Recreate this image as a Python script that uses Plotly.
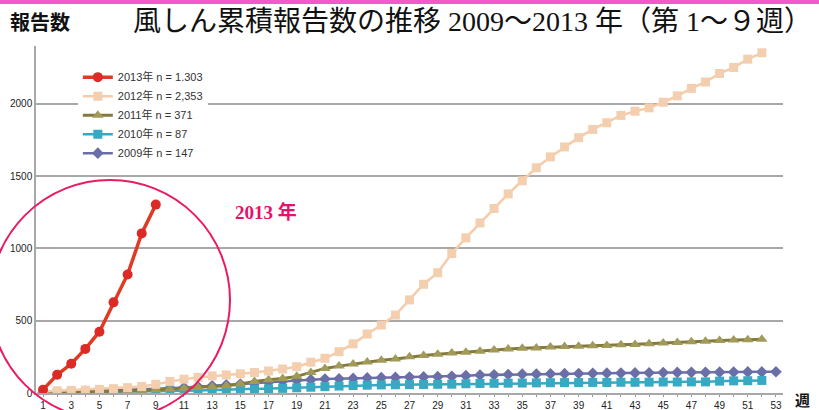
import plotly.graph_objects as go

weeks_2013 = list(range(1, 10))
cases_2013 = [23, 126, 202, 305, 424, 627, 820, 1104, 1303]

weeks_2012 = list(range(1, 53))
cases_2012 = [10, 15, 18, 20, 25, 30, 37, 45, 60, 80, 96, 108, 118, 125, 133, 142, 152, 166, 182, 213,
              240, 286, 340, 408, 470, 539, 644, 752, 832, 965, 1073, 1176, 1276, 1377, 1468, 1558,
              1633, 1702, 1766, 1823, 1869, 1920, 1949, 1972, 2011, 2055, 2107, 2151, 2210, 2251, 2309, 2353]

weeks_2011 = list(range(1, 53))
cases_2011 = [2, 4, 5, 6, 8, 10, 14, 18, 22, 28, 33, 38, 44, 50, 62, 80, 92, 100, 115, 142,
              170, 186, 200, 214, 226, 235, 250, 260, 268, 276, 282, 289, 298, 304, 309, 312,
              318, 322, 324, 326, 328, 333, 336, 340, 345, 350, 354, 358, 363, 366, 369, 371]

weeks_2010 = list(range(1, 53))
cases_2010 = [1, 2, 3, 4, 5, 6, 8, 10, 12, 14, 16, 18, 20, 22, 24, 26, 28, 32, 36, 40,
              44, 48, 52, 54, 56, 57, 58, 59, 60, 61, 64, 66, 67, 68, 69, 70,
              71, 72, 72, 73, 73, 74, 74, 75, 76, 76, 77, 77, 82, 84, 85, 87]

weeks_2009 = list(range(1, 54))
cases_2009 = [2, 5, 8, 11, 14, 17, 20, 24, 28, 33, 38, 43, 50, 56, 62, 68, 75, 82, 88, 92,
              96, 98, 101, 104, 106, 108, 110, 111, 113, 115, 120, 124, 126, 128, 130, 131,
              133, 134, 135, 136, 137, 138, 139, 140, 141, 142, 143, 143, 144, 145, 146, 146, 147]

series_names = ["2013年 n = 1.303", "2012年 n = 2,353", "2011年 n = 371", "2010年 n = 87", "2009年 n = 147"]
x_ticks = list(range(1, 54, 2))
y_ticks = [0, 500, 1000, 1500, 2000]

fig = go.Figure()
fig.add_trace(go.Scatter(x=weeks_2009, y=cases_2009, name=series_names[4], mode="lines+markers",
                         line=dict(color="#6a6fa8", width=2.5),
                         marker=dict(symbol="diamond", size=9, color="#6a6fa8")))
fig.add_trace(go.Scatter(x=weeks_2010, y=cases_2010, name=series_names[3], mode="lines+markers",
                         line=dict(color="#38a9c2", width=2.5),
                         marker=dict(symbol="square", size=9, color="#38a9c2")))
fig.add_trace(go.Scatter(x=weeks_2011, y=cases_2011, name=series_names[2], mode="lines+markers",
                         line=dict(color="#857a3e", width=3),
                         marker=dict(symbol="triangle-up", size=10, color="#a29a58")))
fig.add_trace(go.Scatter(x=weeks_2012, y=cases_2012, name=series_names[1], mode="lines+markers",
                         line=dict(color="#f5cba8", width=2.5),
                         marker=dict(symbol="square", size=9, color="#f3cfb0")))
fig.add_trace(go.Scatter(x=weeks_2013, y=cases_2013, name=series_names[0], mode="lines+markers",
                         line=dict(color="#e03a22", width=3.5),
                         marker=dict(symbol="circle", size=10, color="#dc2a26")))

T, B = 46, 17
PH = 410 - T - B
Y0 = 410 - B


def py(p):
    return (Y0 - p) / PH


def px(p):
    return (p - 36) / 747


fig.update_layout(
    width=819, height=410,
    margin=dict(l=36, r=36, t=T, b=B, autoexpand=False),
    paper_bgcolor="white", plot_bgcolor="white",
    font=dict(family="Liberation Sans, Noto Sans CJK JP, sans-serif", color="#222222"),
    showlegend=True,
    legend=dict(x=0.056, y=0.952, xanchor="left", yanchor="top", traceorder="reversed",
                bgcolor="white", font=dict(size=11, color="#333333",
                                           family="Liberation Sans, Noto Sans CJK JP, sans-serif"),
                itemwidth=30),
    xaxis=dict(range=[0.5, 53.5], tickmode="array", tickvals=x_ticks, ticktext=[str(v) for v in x_ticks],
               showgrid=False, zeroline=False, showline=True, linecolor="#a8a8a8", linewidth=1.5,
               ticks="outside", ticklen=2, tickcolor="#999999", automargin=False,
               minor=dict(dtick=1, tick0=0, ticks="outside", ticklen=2, tickcolor="#999999"),
               tickfont=dict(size=10, color="#222222")),
    yaxis=dict(range=[0, 2400], tickmode="array", tickvals=y_ticks, ticktext=[str(v) for v in y_ticks],
               showgrid=True, gridcolor="#a8a8a8", gridwidth=1.5, zeroline=False, automargin=False,
               showline=True, linecolor="#a8a8a8", linewidth=1.5, ticks="",
               tickfont=dict(size=10, color="#222222")),
)

# pink top band
fig.add_shape(type="rect", xref="paper", yref="paper", x0=-0.1, x1=1.1,
              y0=py(4), y1=py(-2),
              fillcolor="#f25ac6", line=dict(width=0), layer="above")
# circle highlighting 2013
fig.add_shape(type="circle", xref="paper", yref="paper",
              x0=px(-10), x1=px(230), y0=py(420), y1=py(180),
              line=dict(color="#ea1a63", width=2), layer="above")

fig.add_annotation(xref="paper", yref="paper", x=px(8), y=py(22),
                   xanchor="left", yanchor="middle", showarrow=False, text="<b>報告数</b>",
                   font=dict(size=20, color="#111111", family="Noto Sans CJK JP"))
fig.add_annotation(xref="paper", yref="paper", x=px(473), y=py(21),
                   xanchor="center", yanchor="middle", showarrow=False,
                   text="風しん累積報告数の推移 2009～2013 年（第 1～９週）",
                   font=dict(size=28, color="#111111", family="Liberation Serif, Noto Sans CJK JP"))
fig.add_annotation(xref="paper", yref="paper", x=px(233), y=py(212),
                   xanchor="left", yanchor="middle", showarrow=False, text="<b>2013 年</b>",
                   font=dict(size=19, color="#e8106a", family="Liberation Serif, Noto Sans CJK JP"))
fig.add_annotation(xref="paper", yref="paper", x=px(793), y=py(399),
                   xanchor="left", yanchor="middle", showarrow=False, text="<b>週</b>",
                   font=dict(size=15, color="#111111", family="Noto Sans CJK JP"))

fig.write_html("out.html", config={"displayModeBar": False},
               post_script="document.body.style.margin='0';")
